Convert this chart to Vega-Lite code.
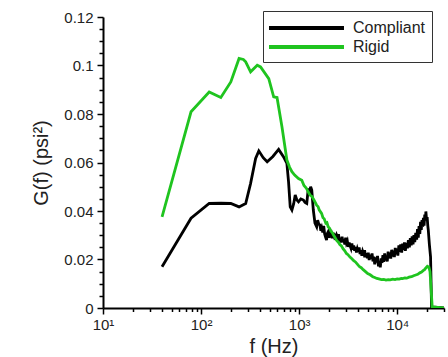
{
  "$schema": "https://vega.github.io/schema/vega-lite/v6.json",
  "width": 341,
  "height": 291,
  "autosize": "none",
  "padding": {"left": 103, "top": 17, "right": 4, "bottom": 49},
  "background": "white",
  "config": {"view": {"stroke": null}, "font": "Liberation Sans"},
  "datasets": {
    "pts": [
      {"s": "Compliant", "f": 40, "g": 0.017}, {"s": "Compliant", "f": 79, "g": 0.037}, {"s": "Compliant", "f": 121, "g": 0.0431}, {"s": "Compliant", "f": 160, "g": 0.0432}, {"s": "Compliant", "f": 201, "g": 0.0431}, {"s": "Compliant", "f": 244, "g": 0.0417}, {"s": "Compliant", "f": 285, "g": 0.0431}, {"s": "Compliant", "f": 320, "g": 0.0514}, {"s": "Compliant", "f": 360, "g": 0.0617}, {"s": "Compliant", "f": 388, "g": 0.0648}, {"s": "Compliant", "f": 430, "g": 0.062}, {"s": "Compliant", "f": 472, "g": 0.0603}, {"s": "Compliant", "f": 540, "g": 0.0625}, {"s": "Compliant", "f": 618, "g": 0.0654}, {"s": "Compliant", "f": 694, "g": 0.0623}, {"s": "Compliant", "f": 750, "g": 0.0596}, {"s": "Compliant", "f": 780, "g": 0.052}, {"s": "Compliant", "f": 811, "g": 0.0417}, {"s": "Compliant", "f": 844, "g": 0.0404}, {"s": "Compliant", "f": 880, "g": 0.043}, {"s": "Compliant", "f": 912, "g": 0.0466}, {"s": "Compliant", "f": 950, "g": 0.0445}, {"s": "Compliant", "f": 985, "g": 0.0438}, {"s": "Compliant", "f": 1040, "g": 0.045}, {"s": "Compliant", "f": 1106, "g": 0.0445}, {"s": "Compliant", "f": 1150, "g": 0.0435}, {"s": "Compliant", "f": 1196, "g": 0.0431}, {"s": "Compliant", "f": 1240, "g": 0.0493}, {"s": "Compliant", "f": 1271, "g": 0.047}, {"s": "Compliant", "f": 1310, "g": 0.05}, {"s": "Compliant", "f": 1345, "g": 0.0486}, {"s": "Compliant", "f": 1395, "g": 0.0404}, {"s": "Compliant", "f": 1450, "g": 0.035},
      {"s": "Compliant", "f": 1509, "g": 0.0335}, {"s": "Compliant", "f": 1545, "g": 0.0362}, {"s": "Compliant", "f": 1580, "g": 0.0348}, {"s": "Compliant", "f": 1629, "g": 0.0342}, {"s": "Compliant", "f": 1665, "g": 0.0318}, {"s": "Compliant", "f": 1700, "g": 0.033}, {"s": "Compliant", "f": 1740, "g": 0.0312}, {"s": "Compliant", "f": 1780, "g": 0.0338}, {"s": "Compliant", "f": 1820, "g": 0.0305}, {"s": "Compliant", "f": 1860, "g": 0.0292}, {"s": "Compliant", "f": 1903, "g": 0.028}, {"s": "Compliant", "f": 1940, "g": 0.0308}, {"s": "Compliant", "f": 1980, "g": 0.0315}, {"s": "Compliant", "f": 2020, "g": 0.029}, {"s": "Compliant", "f": 2060, "g": 0.03}, {"s": "Compliant", "f": 2100, "g": 0.0322}, {"s": "Compliant", "f": 2138, "g": 0.0302}, {"s": "Compliant", "f": 2180, "g": 0.0288}, {"s": "Compliant", "f": 2230, "g": 0.031}, {"s": "Compliant", "f": 2280, "g": 0.0296}, {"s": "Compliant", "f": 2330, "g": 0.0306}, {"s": "Compliant", "f": 2370, "g": 0.0281}, {"s": "Compliant", "f": 2420, "g": 0.03}, {"s": "Compliant", "f": 2470, "g": 0.0292}, {"s": "Compliant", "f": 2520, "g": 0.0305}, {"s": "Compliant", "f": 2570, "g": 0.0275}, {"s": "Compliant", "f": 2620, "g": 0.0288}, {"s": "Compliant", "f": 2680, "g": 0.027}, {"s": "Compliant", "f": 2740, "g": 0.0294}, {"s": "Compliant", "f": 2800, "g": 0.0272}, {"s": "Compliant", "f": 2860, "g": 0.0284}, {"s": "Compliant", "f": 2920, "g": 0.0262}, {"s": "Compliant", "f": 2980, "g": 0.029}, {"s": "Compliant", "f": 3040, "g": 0.0268}, {"s": "Compliant", "f": 3100, "g": 0.0276}, {"s": "Compliant", "f": 3170, "g": 0.0252}, {"s": "Compliant", "f": 3240, "g": 0.027}, {"s": "Compliant", "f": 3310, "g": 0.0256}, {"s": "Compliant", "f": 3380, "g": 0.0246}, {"s": "Compliant", "f": 3450, "g": 0.0266}, {"s": "Compliant", "f": 3520, "g": 0.024}, {"s": "Compliant", "f": 3600, "g": 0.0258}, {"s": "Compliant", "f": 3680, "g": 0.0236}, {"s": "Compliant", "f": 3760, "g": 0.0252}, {"s": "Compliant", "f": 3840, "g": 0.0229}, {"s": "Compliant", "f": 3920, "g": 0.0244}, {"s": "Compliant", "f": 4000, "g": 0.0232}, {"s": "Compliant", "f": 4090, "g": 0.025}, {"s": "Compliant", "f": 4180, "g": 0.0222}, {"s": "Compliant", "f": 4270, "g": 0.0238}, {"s": "Compliant", "f": 4360, "g": 0.0215}, {"s": "Compliant", "f": 4450, "g": 0.0234}, {"s": "Compliant", "f": 4550, "g": 0.0224}, {"s": "Compliant", "f": 4650, "g": 0.0238}, {"s": "Compliant", "f": 4750, "g": 0.021}, {"s": "Compliant", "f": 4850, "g": 0.0226}, {"s": "Compliant", "f": 4960, "g": 0.0205}, {"s": "Compliant", "f": 5070, "g": 0.0228}, {"s": "Compliant", "f": 5180, "g": 0.0198}, {"s": "Compliant", "f": 5300, "g": 0.022}, {"s": "Compliant", "f": 5420, "g": 0.0202}, {"s": "Compliant", "f": 5540, "g": 0.0225}, {"s": "Compliant", "f": 5660, "g": 0.0192}, {"s": "Compliant", "f": 5780, "g": 0.0212}, {"s": "Compliant", "f": 5900, "g": 0.018}, {"s": "Compliant", "f": 6030, "g": 0.0208}, {"s": "Compliant", "f": 6160, "g": 0.0188}, {"s": "Compliant", "f": 6300, "g": 0.0215}, {"s": "Compliant", "f": 6440, "g": 0.0172}, {"s": "Compliant", "f": 6580, "g": 0.019}, {"s": "Compliant", "f": 6720, "g": 0.0168}, {"s": "Compliant", "f": 6860, "g": 0.0205}, {"s": "Compliant", "f": 7000, "g": 0.0186}, {"s": "Compliant", "f": 7150, "g": 0.0218}, {"s": "Compliant", "f": 7300, "g": 0.019}, {"s": "Compliant", "f": 7450, "g": 0.0225}, {"s": "Compliant", "f": 7600, "g": 0.0196}, {"s": "Compliant", "f": 7760, "g": 0.0214}, {"s": "Compliant", "f": 7920, "g": 0.0192}, {"s": "Compliant", "f": 8080, "g": 0.0232}, {"s": "Compliant", "f": 8250, "g": 0.0205}, {"s": "Compliant", "f": 8420, "g": 0.0228}, {"s": "Compliant", "f": 8600, "g": 0.0204}, {"s": "Compliant", "f": 8780, "g": 0.024}, {"s": "Compliant", "f": 8960, "g": 0.0212}, {"s": "Compliant", "f": 9150, "g": 0.0236}, {"s": "Compliant", "f": 9350, "g": 0.021}, {"s": "Compliant", "f": 9550, "g": 0.0248}, {"s": "Compliant", "f": 9750, "g": 0.0222}, {"s": "Compliant", "f": 9950, "g": 0.0245}, {"s": "Compliant", "f": 10150, "g": 0.0216}, {"s": "Compliant", "f": 10400, "g": 0.0258}, {"s": "Compliant", "f": 10600, "g": 0.0232}, {"s": "Compliant", "f": 10850, "g": 0.0262}, {"s": "Compliant", "f": 11100, "g": 0.0228}, {"s": "Compliant", "f": 11350, "g": 0.0265}, {"s": "Compliant", "f": 11600, "g": 0.024}, {"s": "Compliant", "f": 11850, "g": 0.027}, {"s": "Compliant", "f": 12100, "g": 0.0236}, {"s": "Compliant", "f": 12400, "g": 0.0268}, {"s": "Compliant", "f": 12700, "g": 0.0246}, {"s": "Compliant", "f": 13000, "g": 0.028}, {"s": "Compliant", "f": 13300, "g": 0.025}, {"s": "Compliant", "f": 13600, "g": 0.0288}, {"s": "Compliant", "f": 13900, "g": 0.0258}, {"s": "Compliant", "f": 14200, "g": 0.0295}, {"s": "Compliant", "f": 14500, "g": 0.0262}, {"s": "Compliant", "f": 14800, "g": 0.03}, {"s": "Compliant", "f": 15100, "g": 0.0272}, {"s": "Compliant", "f": 15450, "g": 0.031}, {"s": "Compliant", "f": 15800, "g": 0.0282}, {"s": "Compliant", "f": 16100, "g": 0.0325}, {"s": "Compliant", "f": 16400, "g": 0.029}, {"s": "Compliant", "f": 16700, "g": 0.0338}, {"s": "Compliant", "f": 17000, "g": 0.0305}, {"s": "Compliant", "f": 17300, "g": 0.0355}, {"s": "Compliant", "f": 17600, "g": 0.0322}, {"s": "Compliant", "f": 17900, "g": 0.0362}, {"s": "Compliant", "f": 18200, "g": 0.0335}, {"s": "Compliant", "f": 18500, "g": 0.0372}, {"s": "Compliant", "f": 18800, "g": 0.034}, {"s": "Compliant", "f": 19100, "g": 0.0385}, {"s": "Compliant", "f": 19400, "g": 0.036}, {"s": "Compliant", "f": 19600, "g": 0.0398}, {"s": "Compliant", "f": 19900, "g": 0.0365}, {"s": "Compliant", "f": 20200, "g": 0.0375}, {"s": "Compliant", "f": 20500, "g": 0.034}, {"s": "Compliant", "f": 20750, "g": 0.0321}, {"s": "Compliant", "f": 21300, "g": 0.026}, {"s": "Compliant", "f": 21880, "g": 0.0211}, {"s": "Compliant", "f": 22390, "g": 0.0005}, {"s": "Compliant", "f": 30000, "g": 0},
      {"s": "Rigid", "f": 40, "g": 0.0376}, {"s": "Rigid", "f": 79, "g": 0.0809}, {"s": "Rigid", "f": 121, "g": 0.0891}, {"s": "Rigid", "f": 159, "g": 0.0868}, {"s": "Rigid", "f": 201, "g": 0.0932}, {"s": "Rigid", "f": 244, "g": 0.1029}, {"s": "Rigid", "f": 270, "g": 0.1025}, {"s": "Rigid", "f": 285, "g": 0.1015}, {"s": "Rigid", "f": 320, "g": 0.0974}, {"s": "Rigid", "f": 374, "g": 0.1001}, {"s": "Rigid", "f": 404, "g": 0.0994}, {"s": "Rigid", "f": 490, "g": 0.0946}, {"s": "Rigid", "f": 550, "g": 0.0871}, {"s": "Rigid", "f": 595, "g": 0.0868}, {"s": "Rigid", "f": 668, "g": 0.0747}, {"s": "Rigid", "f": 750, "g": 0.061}, {"s": "Rigid", "f": 800, "g": 0.058}, {"s": "Rigid", "f": 844, "g": 0.0562}, {"s": "Rigid", "f": 900, "g": 0.0548}, {"s": "Rigid", "f": 985, "g": 0.0534}, {"s": "Rigid", "f": 1064, "g": 0.0527}, {"s": "Rigid", "f": 1120, "g": 0.0505}, {"s": "Rigid", "f": 1180, "g": 0.0495}, {"s": "Rigid", "f": 1240, "g": 0.0478}, {"s": "Rigid", "f": 1291, "g": 0.0466}, {"s": "Rigid", "f": 1350, "g": 0.046}, {"s": "Rigid", "f": 1420, "g": 0.0445}, {"s": "Rigid", "f": 1509, "g": 0.0424}, {"s": "Rigid", "f": 1560, "g": 0.0418}, {"s": "Rigid", "f": 1600, "g": 0.0405}, {"s": "Rigid", "f": 1694, "g": 0.039}, {"s": "Rigid", "f": 1750, "g": 0.0372}, {"s": "Rigid", "f": 1800, "g": 0.0368}, {"s": "Rigid", "f": 1870, "g": 0.035}, {"s": "Rigid", "f": 1920, "g": 0.0352}, {"s": "Rigid", "f": 1977, "g": 0.0335}, {"s": "Rigid", "f": 2050, "g": 0.0328}, {"s": "Rigid", "f": 2100, "g": 0.0318}, {"s": "Rigid", "f": 2180, "g": 0.031}, {"s": "Rigid", "f": 2250, "g": 0.03}, {"s": "Rigid", "f": 2330, "g": 0.029}, {"s": "Rigid", "f": 2403, "g": 0.028}, {"s": "Rigid", "f": 2500, "g": 0.0272}, {"s": "Rigid", "f": 2600, "g": 0.0262}, {"s": "Rigid", "f": 2700, "g": 0.0256}, {"s": "Rigid", "f": 2800, "g": 0.0245}, {"s": "Rigid", "f": 2920, "g": 0.0236}, {"s": "Rigid", "f": 3034, "g": 0.0225}, {"s": "Rigid", "f": 3150, "g": 0.022}, {"s": "Rigid", "f": 3300, "g": 0.021}, {"s": "Rigid", "f": 3450, "g": 0.0203}, {"s": "Rigid", "f": 3600, "g": 0.0195}, {"s": "Rigid", "f": 3750, "g": 0.019}, {"s": "Rigid", "f": 3900, "g": 0.0182}, {"s": "Rigid", "f": 4130, "g": 0.017}, {"s": "Rigid", "f": 4300, "g": 0.0166}, {"s": "Rigid", "f": 4500, "g": 0.0158}, {"s": "Rigid", "f": 4750, "g": 0.015}, {"s": "Rigid", "f": 5000, "g": 0.0142}, {"s": "Rigid", "f": 5300, "g": 0.0137}, {"s": "Rigid", "f": 5633, "g": 0.0129}, {"s": "Rigid", "f": 5900, "g": 0.0126}, {"s": "Rigid", "f": 6200, "g": 0.0122}, {"s": "Rigid", "f": 6500, "g": 0.012}, {"s": "Rigid", "f": 6900, "g": 0.0117}, {"s": "Rigid", "f": 7300, "g": 0.0118}, {"s": "Rigid", "f": 7690, "g": 0.0115}, {"s": "Rigid", "f": 8100, "g": 0.0117}, {"s": "Rigid", "f": 8500, "g": 0.0116}, {"s": "Rigid", "f": 9000, "g": 0.0119}, {"s": "Rigid", "f": 9500, "g": 0.0117}, {"s": "Rigid", "f": 10000, "g": 0.012}, {"s": "Rigid", "f": 10500, "g": 0.0119}, {"s": "Rigid", "f": 11000, "g": 0.0122}, {"s": "Rigid", "f": 11320, "g": 0.0121}, {"s": "Rigid", "f": 12000, "g": 0.0124}, {"s": "Rigid", "f": 12500, "g": 0.0123}, {"s": "Rigid", "f": 13200, "g": 0.0127}, {"s": "Rigid", "f": 14000, "g": 0.0129}, {"s": "Rigid", "f": 14700, "g": 0.0133}, {"s": "Rigid", "f": 15450, "g": 0.0136}, {"s": "Rigid", "f": 16200, "g": 0.0139}, {"s": "Rigid", "f": 17000, "g": 0.0145}, {"s": "Rigid", "f": 17700, "g": 0.0148}, {"s": "Rigid", "f": 18500, "g": 0.0155}, {"s": "Rigid", "f": 19000, "g": 0.0158}, {"s": "Rigid", "f": 19500, "g": 0.0164}, {"s": "Rigid", "f": 20300, "g": 0.0172}, {"s": "Rigid", "f": 21050, "g": 0.0168}, {"s": "Rigid", "f": 21600, "g": 0.015}, {"s": "Rigid", "f": 22740, "g": 0.0005}, {"s": "Rigid", "f": 30000, "g": 0}
    ]
  },
  "data": {"name": "pts"},
  "mark": {"type": "line", "strokeWidth": 2.8, "clip": true},
  "encoding": {
    "x": {
      "field": "f", "type": "quantitative",
      "scale": {"type": "log", "domain": [10, 30000], "nice": false},
      "axis": {
        "title": "f (Hz)",
        "values": [10, 20, 30, 40, 50, 60, 70, 80, 90, 100, 200, 300, 400, 500, 600, 700, 800, 900, 1000, 2000, 3000, 4000, 5000, 6000, 7000, 8000, 9000, 10000, 20000, 30000],
        "labelExpr": "datum.value == 10 ? '10¹' : datum.value == 100 ? '10²' : datum.value == 1000 ? '10³' : datum.value == 10000 ? '10⁴' : ''",
        "tickSize": {"condition": {"test": "datum.value == 10 || datum.value == 100 || datum.value == 1000 || datum.value == 10000", "value": 6}, "value": 3.5},
        "grid": false,
        "domainColor": "black", "domainWidth": 2,
        "tickColor": "black", "tickWidth": 1.5,
        "labelColor": "#222", "labelFontSize": 15, "labelPadding": 3,
        "labelFlush": false, "labelOverlap": false,
        "titleFontSize": 20, "titleFontWeight": "normal", "titleColor": "#222", "titlePadding": 4
      }
    },
    "y": {
      "field": "g", "type": "quantitative",
      "scale": {"domain": [0, 0.12], "nice": false, "zero": true},
      "axis": {
        "title": "G(f) (psi²)",
        "values": [0, 0.005, 0.01, 0.015, 0.02, 0.025, 0.03, 0.035, 0.04, 0.045, 0.05, 0.055, 0.06, 0.065, 0.07, 0.075, 0.08, 0.085, 0.09, 0.095, 0.1, 0.105, 0.11, 0.115, 0.12],
        "labelExpr": "abs(datum.value * 50 - round(datum.value * 50)) < 0.001 ? '' + datum.value : ''",
        "tickSize": {"condition": {"test": "abs(datum.value * 50 - round(datum.value * 50)) < 0.001", "value": 6}, "value": 4},
        "grid": false,
        "domainColor": "black", "domainWidth": 2,
        "tickColor": "black", "tickWidth": 1.5,
        "labelColor": "#222", "labelFontSize": 15, "labelPadding": 4,
        "labelFlush": false, "labelOverlap": false,
        "titleFontSize": 20, "titleFontWeight": "normal", "titleColor": "#222", "titlePadding": 12
      }
    },
    "color": {
      "field": "s", "type": "nominal",
      "scale": {"domain": ["Compliant", "Rigid"], "range": ["#000000", "#1fc41f"]},
      "legend": {
        "orient": "none", "legendX": 160, "legendY": -6,
        "title": null,
        "symbolType": "M-4.41,0H4.41",
        "symbolSize": 289,
        "symbolStrokeWidth": 4,
        "symbolOffset": 26.5,
        "labelOffset": 36,
        "labelFontSize": 16,
        "labelColor": "#222",
        "padding": 6.5,
        "rowPadding": 0,
        "strokeColor": "#333",
        "fillColor": "white",
        "cornerRadius": 0
      }
    }
  }
}
